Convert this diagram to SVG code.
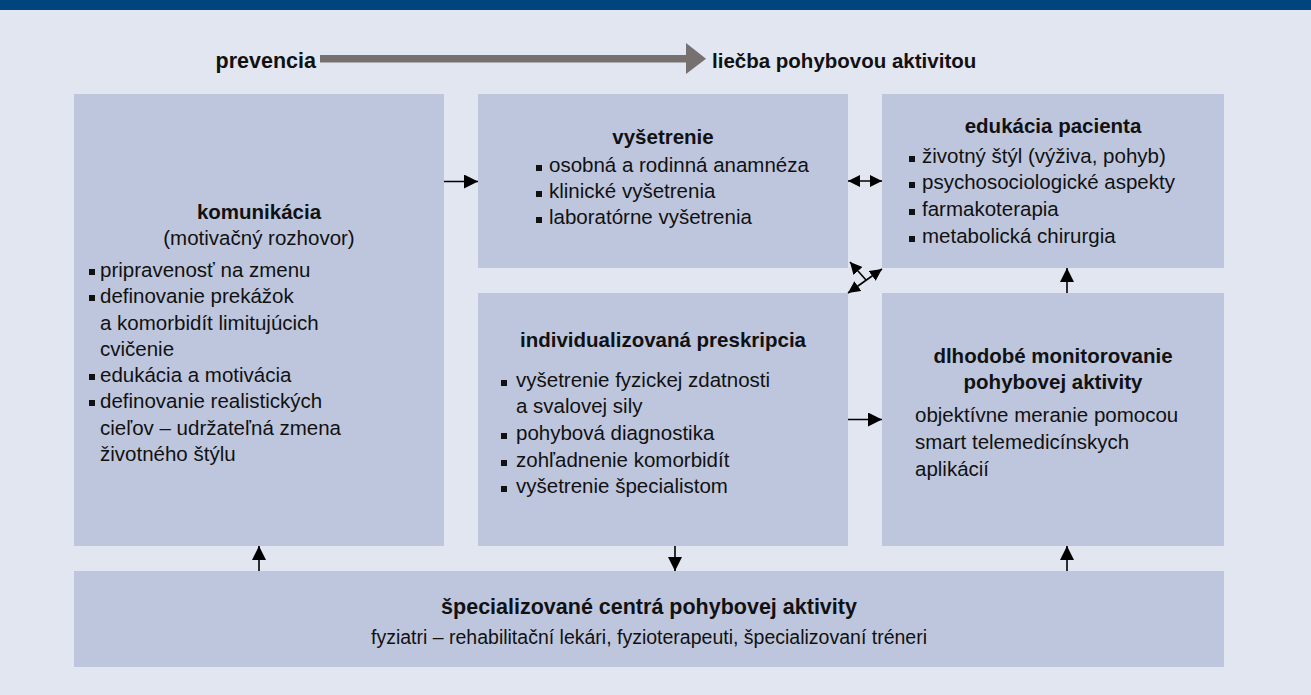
<svg xmlns="http://www.w3.org/2000/svg" width="1311" height="695" viewBox="0 0 1311 695">
<style>
.t{font-family:"Liberation Sans",Arial,sans-serif;font-size:20.5px;fill:#111}
.b{font-weight:bold}
.box{fill:#bec6de}
.c{text-anchor:middle}
.ln{stroke:#000;stroke-width:1.6;fill:none}
.sq{fill:#111}
</style>
<defs>
<marker id="ah" viewBox="0 0 10 10" refX="10" refY="5" markerWidth="15" markerHeight="14" markerUnits="userSpaceOnUse" orient="auto-start-reverse"><path d="M0,0 L10,5 L0,10 z" fill="#000"/></marker>
<marker id="as" viewBox="0 0 10 10" refX="10" refY="5" markerWidth="12" markerHeight="13" markerUnits="userSpaceOnUse" orient="auto-start-reverse"><path d="M0,0 L10,5 L0,10 z" fill="#000"/></marker>
</defs>
<rect x="0" y="0" width="1311" height="695" fill="#e1e6f1"/>
<rect x="0" y="0" width="1311" height="10" fill="#00457c"/>

<g id="header">
<text class="t b" x="316" y="68" text-anchor="end" style="font-size:21.5px">prevencia</text>
<rect x="320" y="55" width="368" height="7.5" fill="#767170"/>
<path d="M686,43 L706,58.7 L686,74 z" fill="#767170"/>
<text class="t b" x="712" y="68">liečba pohybovou aktivitou</text>
</g>

<g id="komunikacia">
<rect class="box" x="74" y="94" width="370" height="452"/>
<text class="t b c" x="259" y="219">komunikácia</text>
<text class="t c" x="259" y="245">(motivačný rozhovor)</text>
<rect class="sq" x="89" y="269" width="6" height="6"/>
<text class="t" x="100" y="277">pripravenosť na zmenu</text>
<rect class="sq" x="89" y="295" width="6" height="6"/>
<text class="t" x="100" y="303">definovanie prekážok</text>
<text class="t" x="100" y="330">a komorbidít limitujúcich</text>
<text class="t" x="100" y="356">cvičenie</text>
<rect class="sq" x="89" y="374" width="6" height="6"/>
<text class="t" x="100" y="382">edukácia a motivácia</text>
<rect class="sq" x="89" y="400" width="6" height="6"/>
<text class="t" x="100" y="408">definovanie realistických</text>
<text class="t" x="100" y="435">cieľov – udržateľná zmena</text>
<text class="t" x="100" y="461">životného štýlu</text>
</g>

<g id="vysetrenie">
<rect class="box" x="478" y="94" width="370" height="174"/>
<text class="t b c" x="663" y="144">vyšetrenie</text>
<rect class="sq" x="536" y="165" width="6" height="6"/>
<text class="t" x="549" y="172">osobná a rodinná anamnéza</text>
<rect class="sq" x="536" y="191" width="6" height="6"/>
<text class="t" x="549" y="198">klinické vyšetrenia</text>
<rect class="sq" x="536" y="217" width="6" height="6"/>
<text class="t" x="549" y="224">laboratórne vyšetrenia</text>
</g>

<g id="edukacia">
<rect class="box" x="882" y="94" width="342" height="174"/>
<text class="t b c" x="1053" y="133">edukácia pacienta</text>
<rect class="sq" x="909" y="156" width="6" height="6"/>
<text class="t" x="922" y="163">životný štýl (výživa, pohyb)</text>
<rect class="sq" x="909" y="182" width="6" height="6"/>
<text class="t" x="922" y="189">psychosociologické aspekty</text>
<rect class="sq" x="909" y="209" width="6" height="6"/>
<text class="t" x="922" y="216">farmakoterapia</text>
<rect class="sq" x="909" y="236" width="6" height="6"/>
<text class="t" x="922" y="243">metabolická chirurgia</text>
</g>

<g id="preskripcia">
<rect class="box" x="478" y="293" width="370" height="253"/>
<text class="t b c" x="663" y="347">individualizovaná preskripcia</text>
<rect class="sq" x="501" y="380" width="6" height="6"/>
<text class="t" x="516" y="387">vyšetrenie fyzickej zdatnosti</text>
<text class="t" x="516" y="413">a svalovej sily</text>
<rect class="sq" x="501" y="433" width="6" height="6"/>
<text class="t" x="516" y="440">pohybová diagnostika</text>
<rect class="sq" x="501" y="460" width="6" height="6"/>
<text class="t" x="516" y="467">zohľadnenie komorbidít</text>
<rect class="sq" x="501" y="486" width="6" height="6"/>
<text class="t" x="516" y="493">vyšetrenie špecialistom</text>
</g>

<g id="monitorovanie">
<rect class="box" x="882" y="293" width="342" height="253"/>
<text class="t b c" x="1053" y="363">dlhodobé monitorovanie</text>
<text class="t b c" x="1053" y="389">pohybovej aktivity</text>
<text class="t" x="915" y="422">objektívne meranie pomocou</text>
<text class="t" x="915" y="449">smart telemedicínskych</text>
<text class="t" x="915" y="476">aplikácií</text>
</g>

<g id="centra">
<rect class="box" x="74" y="571" width="1150" height="96"/>
<text class="t b c" x="649" y="614" style="font-size:21.5px">špecializované centrá pohybovej aktivity</text>
<text class="t c" x="649" y="644" style="font-size:19.5px">fyziatri – rehabilitační lekári, fyzioterapeuti, špecializovaní tréneri</text>
</g>

<g id="connectors">
<line class="ln" x1="444" y1="181.5" x2="478" y2="181.5" marker-end="url(#ah)"/>
<line class="ln" x1="848" y1="181" x2="882" y2="181" marker-start="url(#as)" marker-end="url(#as)"/>
<line class="ln" x1="866" y1="280" x2="850" y2="262" marker-end="url(#as)"/>
<line class="ln" x1="848" y1="293" x2="882" y2="269" marker-start="url(#as)" marker-end="url(#as)"/>
<line class="ln" x1="848" y1="419.5" x2="882" y2="419.5" marker-end="url(#ah)"/>
<line class="ln" x1="1067" y1="293" x2="1067" y2="268" marker-end="url(#ah)"/>
<line class="ln" x1="259" y1="571" x2="259" y2="546" marker-end="url(#ah)"/>
<line class="ln" x1="675" y1="546" x2="675" y2="571" marker-end="url(#ah)"/>
<line class="ln" x1="1067" y1="571" x2="1067" y2="546" marker-end="url(#ah)"/>
</g>
</svg>
